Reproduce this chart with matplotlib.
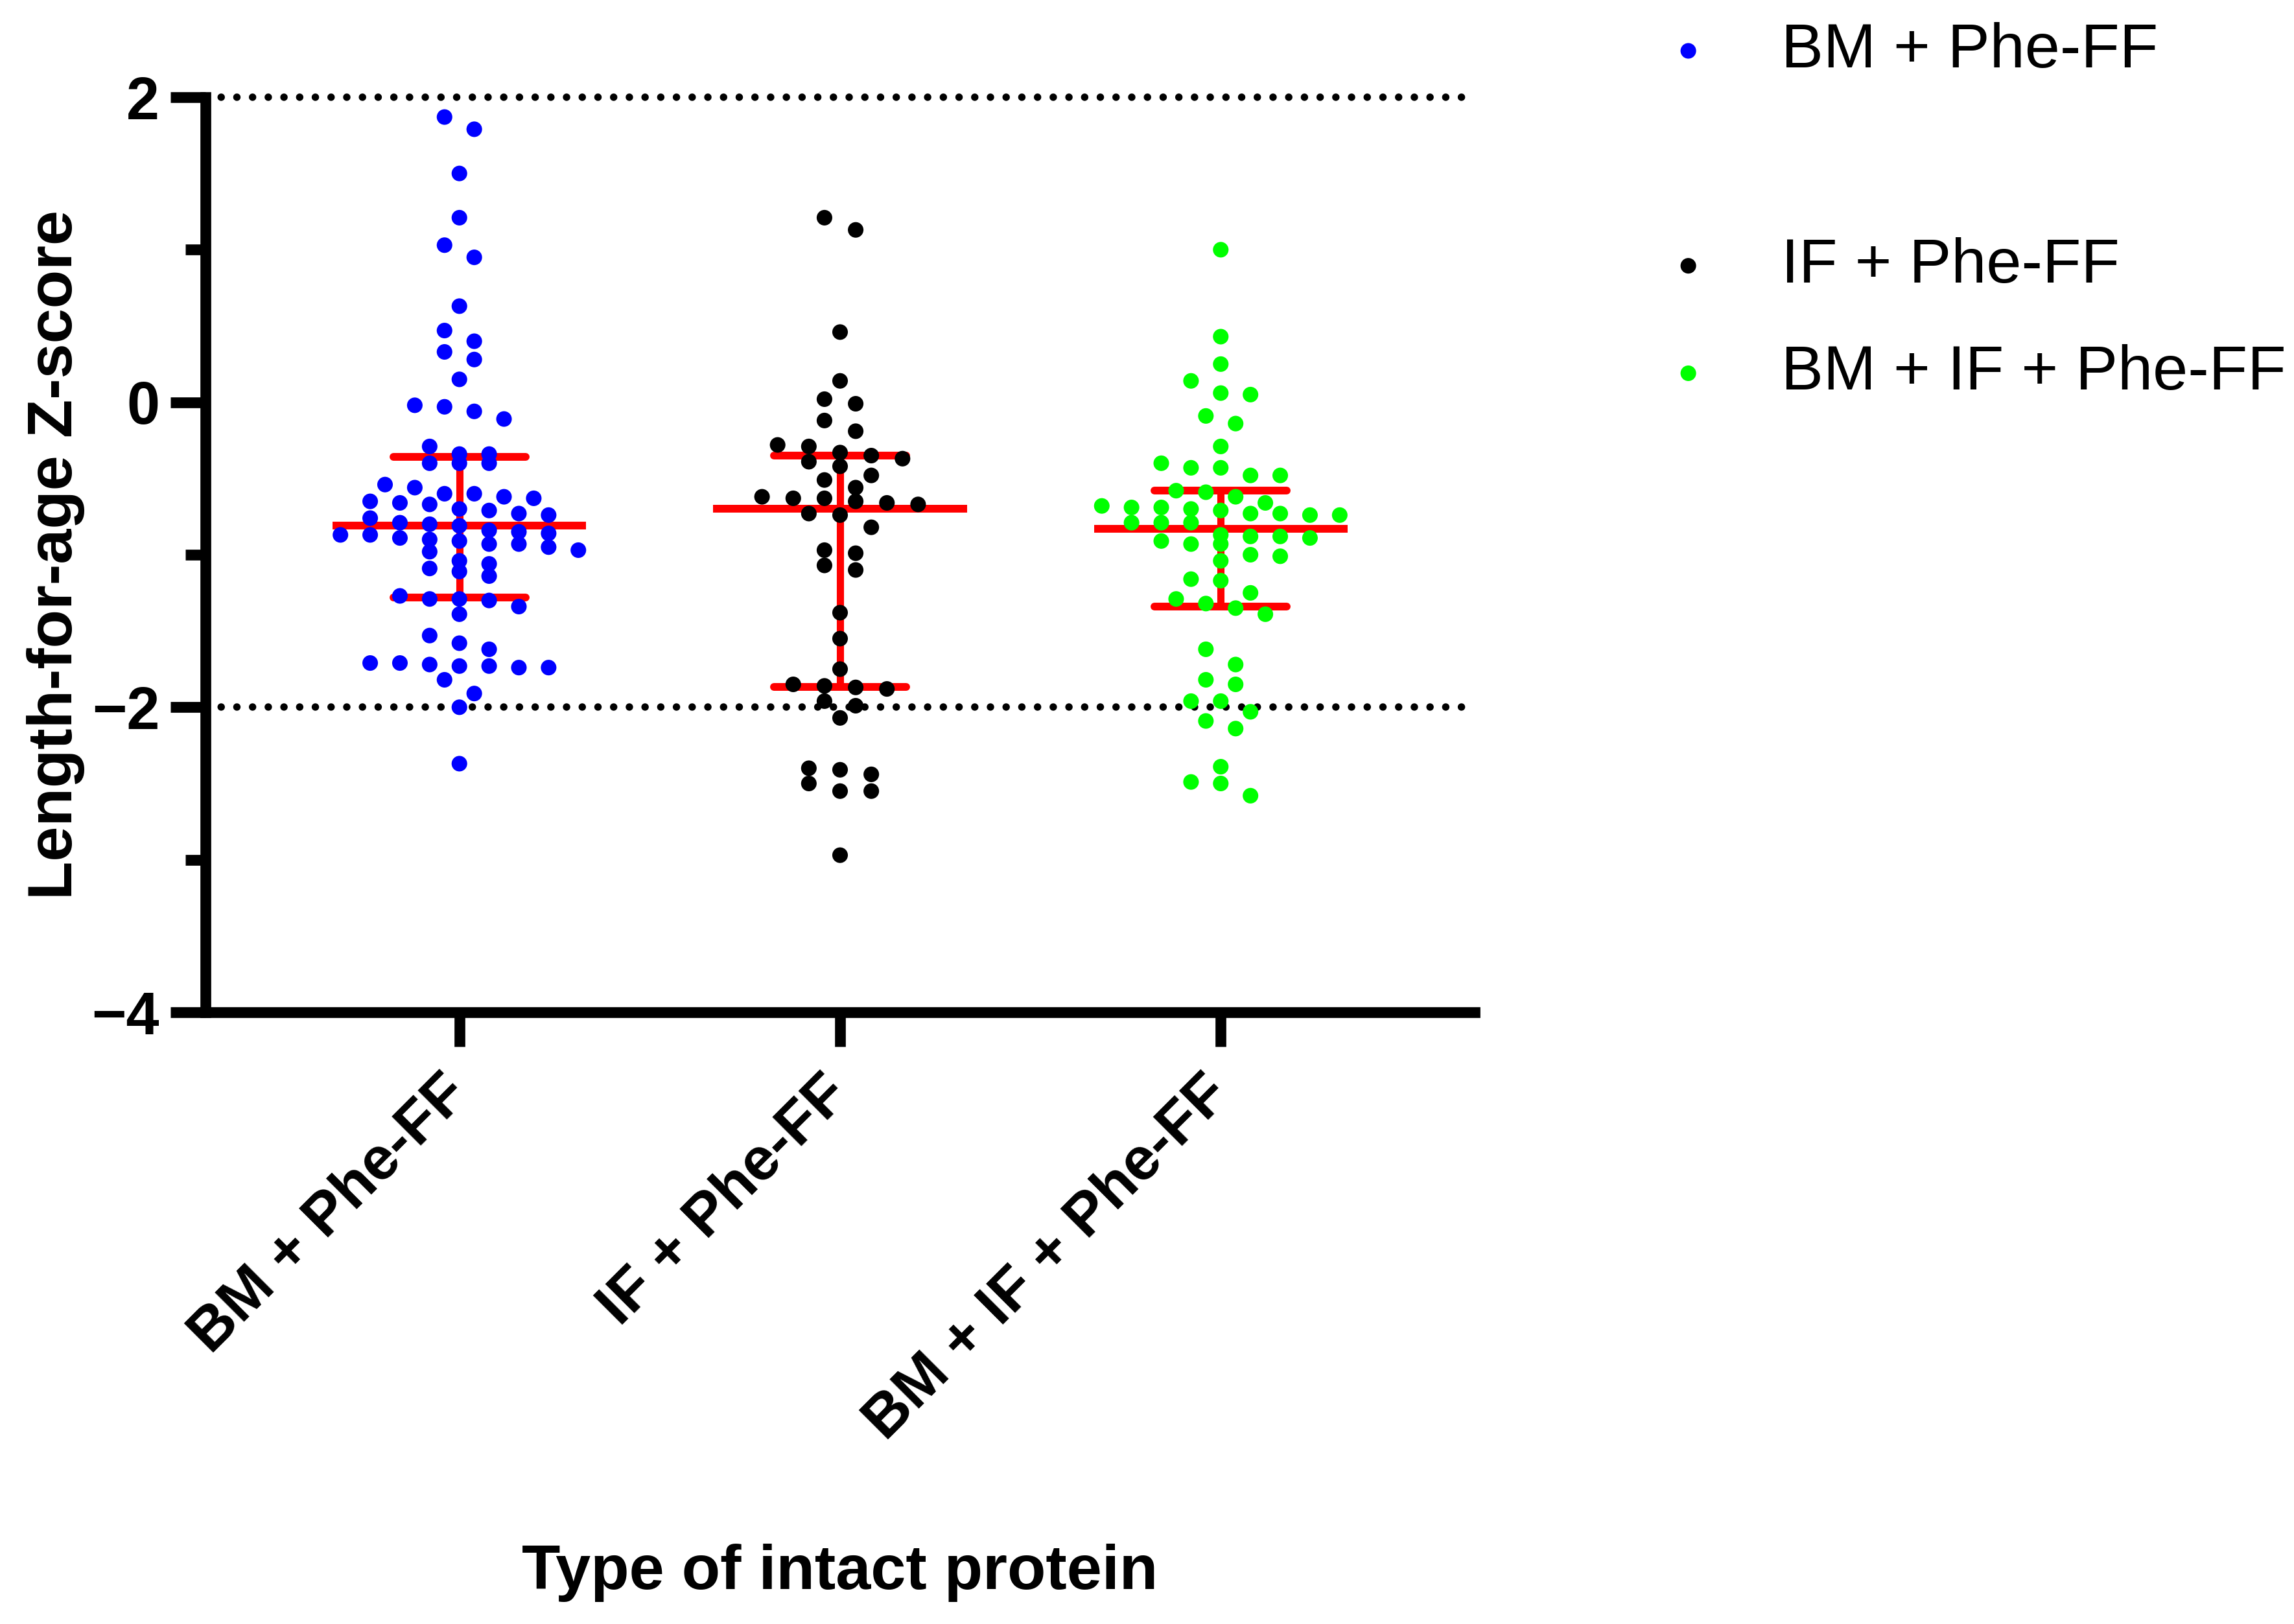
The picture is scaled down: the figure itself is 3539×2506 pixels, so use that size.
import numpy as np
import matplotlib
matplotlib.use("Agg")
import matplotlib.pyplot as plt
from matplotlib.lines import Line2D

plt.rcParams['font.family'] = ['Liberation Sans', 'DejaVu Sans']

# ---------------- data ----------------
categories = ["BM + Phe-FF", "IF + Phe-FF", "BM + IF + Phe-FF"]
colors = ["#0000FF", "#000000", "#00FF00"]

bm_phe = [1.87, 1.79, 1.50, 1.21, 1.03, 0.95, 0.63, 0.47, 0.40, 0.33, 0.28, 0.15,
          -0.03, -0.06, -0.11, -0.02,
          -0.29, -0.34, -0.34, -0.40, -0.40, -0.40, -0.54, -0.60, -0.56, -0.60,
          -0.65, -0.62, -0.63, -0.67, -0.66, -0.70, -0.71, -0.73, -0.74, -0.76,
          -0.79, -0.80, -0.81, -0.84, -0.87, -0.85, -0.86, -0.87, -0.89, -0.90,
          -0.91, -0.93, -0.93, -0.95, -0.97, -0.98, -1.04, -1.06, -1.11, -1.09,
          -1.14, -1.29, -1.29, -1.27, -1.30, -1.34, -1.39, -1.53, -1.58, -1.62,
          -1.73, -1.74, -1.73, -1.71, -1.74, -1.72, -1.71, -1.82, -1.91, -2.00, -2.37]

if_phe = [1.21, 1.13, 0.46, 0.14, -0.01, 0.02, -0.12, -0.19, -0.28, -0.29,
          -0.37, -0.35, -0.33, -0.42, -0.39, -0.48, -0.56, -0.51, -0.62, -0.66,
          -0.63, -0.65, -0.67, -0.63, -0.73, -0.74, -0.82,
          -0.97, -1.07, -0.99, -1.10,
          -1.38, -1.55, -1.75, -1.85, -1.88, -1.86, -1.87, -1.99, -1.96, -2.07,
          -2.40, -2.50, -2.41, -2.55, -2.44, -2.55, -2.97]

bm_if_phe = [1.00, 0.43, 0.25, 0.14, 0.05, 0.06, -0.09, -0.14, -0.29, -0.43,
             -0.40, -0.48, -0.48, -0.43, -0.62, -0.59, -0.58, -0.70, -0.73, -0.71,
             -0.69, -0.66, -0.68, -0.73, -0.69, -0.74, -0.74, -0.79, -0.79, -0.79,
             -0.89, -0.87, -0.93, -0.88, -0.91, -0.88, -0.93, -1.04, -1.00, -1.01,
             -1.17, -1.16, -1.25, -1.32, -1.29, -1.35, -1.39, -1.62, -1.72, -1.85,
             -1.82, -1.96, -1.96, -2.03, -2.09, -2.14, -2.39, -2.49, -2.50, -2.58]

groups = [bm_phe, if_phe, bm_if_phe]

# summary lines (median and interquartile range) as drawn
medians = [-0.81, -0.70, -0.83]
upper_q = [-0.36, -0.35, -0.58]
lower_q = [-1.28, -1.865, -1.34]

y_ticks = [-4, -2, 0, 2]
y_minor = [-3, -1, 1]
ref_lines = [2, -2]


def swarm_offsets(vals, w=0.10, span=0.625, s_max=0.082):
    vals = np.asarray(vals, dtype=float)
    order = np.argsort(-vals, kind="stable")
    rows, current, top = [], [], None
    for idx in order:
        if top is None or top - vals[idx] > w:
            if current:
                rows.append(current)
            current, top = [idx], vals[idx]
        else:
            current.append(idx)
    if current:
        rows.append(current)
    nmax = max(len(r) for r in rows)
    s = s_max if nmax <= 1 else min(s_max, span / (nmax - 1))
    off = np.zeros(len(vals))
    for r in rows:
        n = len(r)
        for i, idx in enumerate(r):
            off[idx] = (i - (n - 1) / 2) * s
    return off


W, H = 3539, 2506
fig = plt.figure(figsize=(W / 100, H / 100), dpi=100)
ax = fig.add_axes([317 / W, 1 - 1562 / H, (2275 - 317) / W, (1562 - 150) / H])

# reference dotted lines
for yv in ref_lines:
    ax.axhline(yv, color="black", lw=8.3, linestyle=(0, (0.001, 2.1)),
               dash_capstyle="round", zorder=1, clip_on=False)

# median / IQR lines
xs = np.arange(len(categories))
ax.hlines(medians, xs - 0.333, xs + 0.333, color="#FF0000", lw=8.6,
          capstyle="butt", zorder=2)
ax.vlines(xs, lower_q, upper_q, color="#FF0000", lw=8.0, zorder=2)
ax.hlines(upper_q, xs - 0.174, xs + 0.174, color="#FF0000", lw=8.6,
          capstyle="round", zorder=2)
ax.hlines(lower_q, xs - 0.174, xs + 0.174, color="#FF0000", lw=8.6,
          capstyle="round", zorder=2)

handles = []
for i, (vals, col, lab) in enumerate(zip(groups, colors, categories)):
    off = swarm_offsets(vals)
    h = ax.scatter(i + off, vals, s=300, color=col, edgecolors="none",
                   zorder=3, label=lab, clip_on=False)
    handles.append(h)

ax.set_xlim(-0.667, 2.667)
ax.set_ylim(-4, 2)

for side in ["top", "right"]:
    ax.spines[side].set_visible(False)
for side in ["left", "bottom"]:
    ax.spines[side].set_linewidth(12)
    ax.spines[side].set_zorder(4)

ax.set_yticks(y_ticks)
ax.set_yticks(y_minor, minor=True)
ax.set_xticks(xs)
ax.set_xticklabels(categories, rotation=45, ha="right", va="center",
                   rotation_mode="anchor", fontsize=67, fontweight="bold")
ax.tick_params(axis="y", which="major", length=39, width=12, pad=12,
               labelsize=66)
ax.tick_params(axis="y", which="minor", length=22, width=12)
ax.tick_params(axis="x", which="major", length=38, width=12, pad=43)
for t in ax.get_yticklabels():
    t.set_fontweight("bold")

ax.set_ylabel("Length-for-age Z-score", fontsize=70, fontweight="bold")
ax.yaxis.set_label_coords(-0.095, 0.5)
ax.set_xlabel("Type of intact protein", fontsize=70, fontweight="bold")
ax.xaxis.set_label_coords(0.5, -0.581)

# legend (blank second row reproduces the uneven spacing)
blank = Line2D([], [], linestyle="none", marker="none")
fig.legend([handles[0], blank, handles[1], handles[2]],
           [categories[0], " ", categories[1], categories[2]],
           loc="upper left", bbox_to_anchor=(2556 / W, 1 - 34 / H),
           frameon=False, fontsize=70, handlelength=1.0, handletextpad=0.97,
           labelspacing=0.78, borderpad=0, borderaxespad=0, scatterpoints=1)

fig.savefig("out.png", dpi=100, facecolor="white")
